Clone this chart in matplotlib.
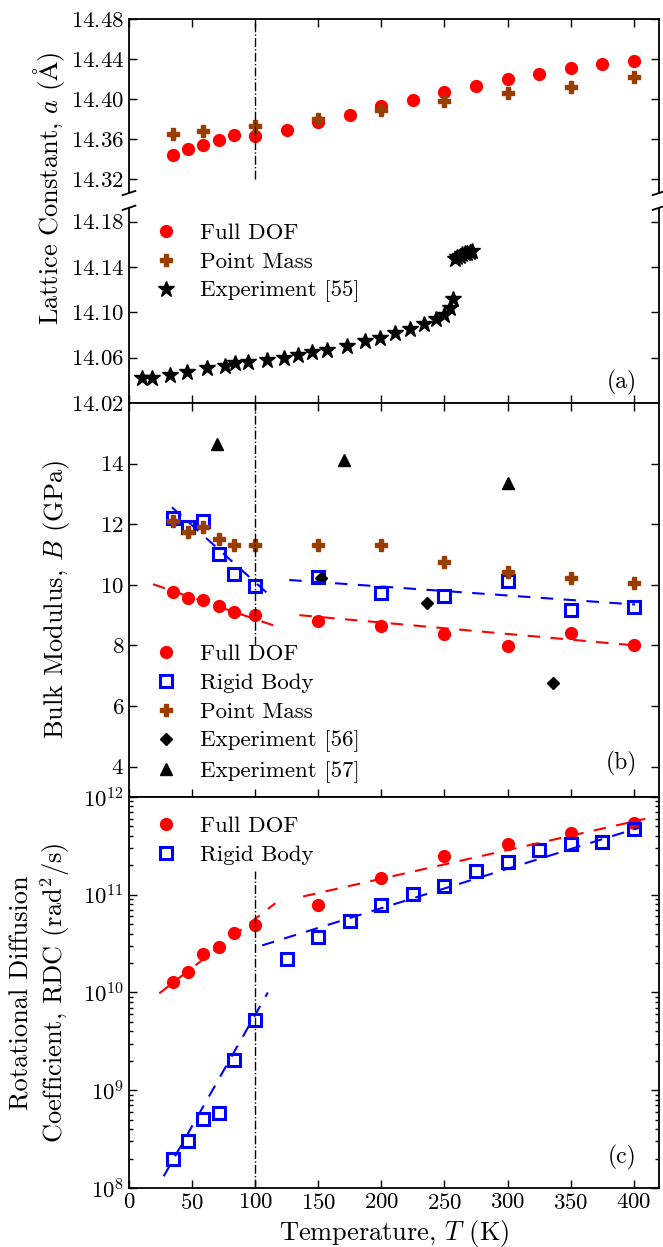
import matplotlib
matplotlib.use('Agg')
import matplotlib.pyplot as plt

plt.rcParams['font.family'] = ['cmr10', 'DejaVu Serif']
plt.rcParams['mathtext.fontset'] = 'cm'
plt.rcParams['axes.formatter.use_mathtext'] = True
plt.rcParams['axes.unicode_minus'] = False

# ---- data ----
# (a) lattice constant
T_sim = [35, 47, 59, 71, 83, 100, 125, 150, 175, 200, 225, 250, 275, 300, 325, 350, 375, 400]
a_full = [14.344, 14.350, 14.354, 14.359, 14.364, 14.363, 14.369, 14.377, 14.384, 14.393,
          14.399, 14.407, 14.413, 14.420, 14.425, 14.431, 14.435, 14.438]
T_pm_a = [35, 59, 100, 150, 200, 250, 300, 350, 400]
a_pm = [14.3655, 14.368, 14.373, 14.380, 14.389, 14.398, 14.406, 14.412, 14.422]
T_exp55 = [10, 18, 32.5, 46, 62, 76, 84, 94.5, 109, 123, 134, 145, 157, 172.5, 187, 199,
           211, 223, 233.5, 243.5, 249.6, 254, 257,
           258, 260, 262, 264, 266, 268, 270, 272]
a_exp55 = [14.0424, 14.042, 14.0445, 14.0475, 14.051, 14.053, 14.055, 14.0564, 14.058,
           14.060, 14.0624, 14.0648, 14.067, 14.0707, 14.0743, 14.0773, 14.082, 14.0857,
           14.090, 14.094, 14.0976, 14.1036, 14.112,
           14.147, 14.149, 14.150, 14.151, 14.152, 14.152, 14.153, 14.154]

# (b) bulk modulus
T_b = [35, 47, 59, 71, 83, 100, 150, 200, 250, 300, 350, 400]
B_full = [9.78, 9.58, 9.50, 9.30, 9.10, 9.02, 8.80, 8.64, 8.38, 7.97, 8.42, 8.00]
B_rigid = [12.21, 11.90, 12.10, 11.01, 10.35, 9.95, 10.27, 9.74, 9.63, 10.13, 9.16, 9.27]
B_pm = [12.10, 11.73, 11.90, 11.51, 11.32, 11.32, 11.32, 11.32, 10.77, 10.41, 10.22, 10.07]
T_exp56 = [152, 236, 336]
B_exp56 = [10.24, 9.39, 6.76]
T_exp57 = [70, 170, 300]
B_exp57 = [14.66, 14.13, 13.36]
fitB_full_lo = ([19, 116], [10.02, 8.64])
fitB_full_hi = ([135, 401], [9.00, 8.00])
fitB_rig_lo = ([34, 110], [12.56, 9.71])
fitB_rig_hi = ([127, 401], [10.16, 9.35])

# (c) rotational diffusion coefficient
D_full = [1.28e10, 1.62e10, 2.5e10, 2.9e10, 4.05e10, 4.95e10, 7.9e10, 1.5e11, 2.5e11,
          3.27e11, 4.3e11, 5.45e11]
T_rig_c = [35, 47, 59, 71, 83, 100, 125, 150, 175, 200, 225, 250, 275, 300, 325, 350, 375, 400]
D_rigid = [1.97e8, 3.03e8, 5.13e8, 5.86e8, 2.03e9, 5.2e9, 2.22e10, 3.68e10, 5.35e10, 7.85e10,
           1.02e11, 1.24e11, 1.73e11, 2.17e11, 2.87e11, 3.27e11, 3.46e11, 4.73e11]
fitD_full_lo = ([24, 116], [9.8e9, 8.2e10])
fitD_full_hi = ([138, 409], [9.6e10, 5.97e11])
fitD_rig_lo = ([27.5, 110], [1.32e8, 1.0e10])
fitD_rig_hi = ([105.5, 404], [3.03e10, 4.84e11])

T_trans = 100
vline_a = [14.320, 14.478]
vline_b = [8.0, 16.0]
vline_c = [1.0e8, 1.75e11]

brown = '#993d00'
fs_tick = 16.5
fs_lab = 19
fs_panel = 17

fig = plt.figure(figsize=(6.63, 12.47), dpi=100)
L, W = 0.1946, 0.7994
axa1 = fig.add_axes([L, 0.8452, W, 0.1395])
axa2 = fig.add_axes([L, 0.6768, W, 0.1564])
axb = fig.add_axes([L, 0.3609, W, 0.3159])
axc = fig.add_axes([L, 0.0473, W, 0.3136])

for ax in (axa1, axa2, axb, axc):
    ax.set_xlim(0, 420)
    ax.set_xticks(range(0, 401, 50))
    for s in ax.spines.values():
        s.set_linewidth(1.3)
    ax.tick_params(which='both', direction='in', top=True, right=True,
                   labelsize=fs_tick, width=1)
    ax.tick_params(which='major', length=6)
    ax.tick_params(which='minor', length=3)

leg_kw = dict(borderaxespad=0, frameon=False, numpoints=1, fontsize=fs_tick,
              handlelength=1.0, handletextpad=1.0, labelspacing=0.38)

# ---- (a) upper ----
axa1.plot(T_sim, a_full, 'o', color='r', ms=8.5, mec='r')
axa1.plot(T_pm_a, a_pm, 'P', color=brown, ms=9, mec=brown)
axa1.plot([T_trans, T_trans], vline_a, 'k-.', lw=1)
axa1.set_ylim(14.306, 14.48)
axa1.set_yticks([14.32, 14.36, 14.40, 14.44, 14.48])
axa1.spines['bottom'].set_visible(False)
axa1.tick_params(bottom=False, labelbottom=False)

# ---- (a) lower ----
axa2.plot([], [], 'o', color='r', ms=8.5, label='Full DOF')
axa2.plot([], [], 'P', color=brown, ms=9, label='Point Mass')
axa2.plot(T_exp55, a_exp55, 'k*', ms=12, label='Experiment [55]')
axa2.set_ylim(14.02, 14.192)
axa2.set_yticks([14.02, 14.06, 14.10, 14.14, 14.18])
axa2.spines['top'].set_visible(False)
axa2.tick_params(top=False, labelbottom=False)
axa2.legend(loc='upper left', bbox_to_anchor=(0.03, 0.97), **leg_kw)
axa2.text(0.958, 0.108, '(a)', transform=axa2.transAxes, ha='right', va='center',
          fontsize=fs_panel)

# break marks
kw = dict(color='k', lw=1.3, clip_on=False)
for x0 in (0, 1):
    axa1.plot([x0 - 0.012, x0 + 0.012], [-0.012, 0.012], transform=axa1.transAxes, **kw)
    axa2.plot([x0 - 0.012, x0 + 0.012], [0.99, 1.012], transform=axa2.transAxes, **kw)

fig.text(0.074, 1 - 188 / 1247, r'Lattice Constant, $a$ ($\mathrm{\AA}$)', rotation=90,
         ha='center', va='center', fontsize=fs_lab)

# ---- (b) ----
axb.plot(T_b, B_full, 'o', color='r', ms=8.5, label='Full DOF')
axb.plot(T_b, B_rigid, 's', mfc='none', mec='b', mew=2.2, ms=8, label='Rigid Body')
axb.plot(T_b, B_pm, 'P', color=brown, ms=9, label='Point Mass')
axb.plot(T_exp56, B_exp56, 'kD', ms=6.5, label='Experiment [56]')
axb.plot(T_exp57, B_exp57, 'k^', ms=8, label='Experiment [57]')
for (tx, ty), c in ((fitB_full_lo, 'r'), (fitB_full_hi, 'r'),
                    (fitB_rig_lo, 'b'), (fitB_rig_hi, 'b')):
    axb.plot(tx, ty, '--', color=c, lw=1.5, dashes=(6, 5))
axb.plot([T_trans, T_trans], vline_b, 'k-.', lw=1)
axb.set_ylim(3, 16)
axb.set_yticks([4, 6, 8, 10, 12, 14])
axb.tick_params(labelbottom=False)
axb.legend(loc='lower left', bbox_to_anchor=(0.03, 0.012), **leg_kw)
axb.text(0.958, 0.086, '(b)', transform=axb.transAxes, ha='right', va='center',
         fontsize=fs_panel)
axb.set_ylabel(r'Bulk Modulus, $B$ (GPa)', fontsize=fs_lab)
axb.yaxis.set_label_coords(-0.107, 0.5)

# ---- (c) ----
axc.set_yscale('log')
axc.plot(T_b, D_full, 'o', color='r', ms=8.5, label='Full DOF')
axc.plot(T_rig_c, D_rigid, 's', mfc='none', mec='b', mew=2.2, ms=8, label='Rigid Body')
for (tx, ty), c in ((fitD_full_lo, 'r'), (fitD_full_hi, 'r'),
                    (fitD_rig_lo, 'b'), (fitD_rig_hi, 'b')):
    axc.plot(tx, ty, '--', color=c, lw=1.5, dashes=(6, 5))
axc.plot([T_trans, T_trans], vline_c, 'k-.', lw=1)
axc.set_ylim(1e8, 1e12)
axc.tick_params(top=False, which='both')
axc.legend(loc='upper left', bbox_to_anchor=(0.03, 0.975), **leg_kw)
axc.text(0.958, 0.077, '(c)', transform=axc.transAxes, ha='right', va='center',
         fontsize=fs_panel)
axc.set_xlabel(r'Temperature, $T$ (K)', fontsize=fs_lab)
axc.set_ylabel('Rotational Diffusion\nCoefficient, RDC (rad$^2$/s)', fontsize=fs_lab)
axc.yaxis.set_label_coords(-0.107, 0.5)

fig.savefig('out.png', dpi=100)
